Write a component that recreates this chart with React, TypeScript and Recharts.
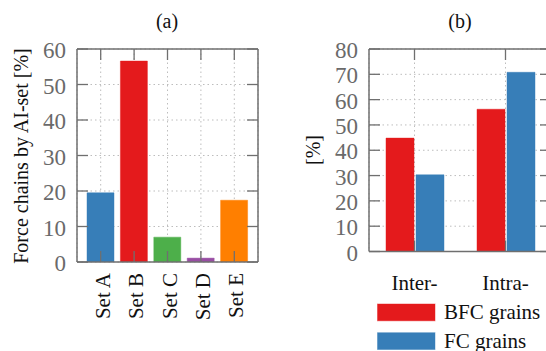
import React from 'react';
import { BarChart, Bar, XAxis, YAxis, CartesianGrid, Cell } from 'recharts';

// ---- Data: panel (a) ----
const setCategories = ['Set A', 'Set B', 'Set C', 'Set D', 'Set E'];
const setValues = [19.5, 56.6, 7.0, 1.1, 17.4];
const setColors = ['#377eb8', '#e41a1c', '#4daf4a', '#984ea3', '#ff7f00'];
const leftTicks = [0, 10, 20, 30, 40, 50, 60];

// ---- Data: panel (b) ----
const grainCategories = ['Inter-', 'Intra-'];
const bfcValues = [44.8, 56.2];
const fcValues = [30.3, 70.8];
const seriesNames = ['BFC grains', 'FC grains'];
const seriesColors = ['#e41a1c', '#377eb8'];
const rightTicks = [0, 10, 20, 30, 40, 50, 60, 70, 80];

const leftData = setCategories.map((name, i) => ({ name, value: setValues[i] }));
const rightData = grainCategories.map((name, i) => ({ name, bfc: bfcValues[i], fc: fcValues[i] }));

const FONT = 'Liberation Serif, serif';
const AXIS = '#6f6f6f';
const TICK_TEXT = '#6a6a6a';
const TEXT = '#111111';
const TL = 11;

const LeftYTick = (props: any) => {
  const { x, y, payload } = props;
  return (
    <g>
      <line x1={x} y1={y} x2={x + TL} y2={y} stroke={AXIS} strokeWidth={1.3} />
      <text x={x - 11} y={y} dy={9} textAnchor="end" fontSize={23} fill={TICK_TEXT} style={{ fontFamily: FONT }}>
        {payload.value}
      </text>
    </g>
  );
};

const RightYTick = (props: any) => {
  const { x, y } = props;
  return <line x1={x} y1={y} x2={x - TL} y2={y} stroke={AXIS} strokeWidth={1.3} />;
};

const TopXTick = (props: any) => {
  const { x, y } = props;
  return <line x1={x} y1={y} x2={x} y2={y + TL} stroke={AXIS} strokeWidth={1.3} />;
};

const SetTick = (props: any) => {
  const { x, y, payload } = props;
  return (
    <g>
      <line x1={x} y1={y} x2={x} y2={y - TL} stroke={AXIS} strokeWidth={1.3} />
      <text
        transform={`translate(${x + 2},${y + 11}) rotate(-90)`}
        textAnchor="end"
        dominantBaseline="central"
        fontSize={21}
        fill={TEXT}
        style={{ fontFamily: FONT }}
      >
        {payload.value}
      </text>
    </g>
  );
};

const GrainTick = (props: any) => {
  const { x, y, payload } = props;
  return (
    <g>
      <line x1={x} y1={y} x2={x} y2={y - TL} stroke={AXIS} strokeWidth={1.3} />
      <text x={x} y={y + 38.5} textAnchor="middle" fontSize={21} fill={TEXT} style={{ fontFamily: FONT }}>
        {payload.value}
      </text>
    </g>
  );
};

const axisLine = { stroke: AXIS, strokeWidth: 1.5 };

export default function App() {
  return (
    <div style={{ position: 'fixed', left: 0, top: 0, width: 546, height: 351, overflow: 'hidden', background: '#fff', fontFamily: FONT }}>
      <div style={{ position: 'absolute', left: 0, top: 0 }}>
        <BarChart width={273} height={351} data={leftData} margin={{ top: 48, right: 14, bottom: 88, left: 76 }} barSize={27}>
          <CartesianGrid stroke="#bdbdbd" strokeDasharray="1.5 3" />
          <XAxis dataKey="name" xAxisId={0} height={1} padding={{ left: 7, right: 7 }} tickSize={0} tickMargin={0} tickLine={false} axisLine={axisLine} tick={<SetTick />} interval={0} />
          <XAxis dataKey="name" xAxisId="top" orientation="top" height={1} padding={{ left: 7, right: 7 }} tickSize={0} tickMargin={0} tickLine={false} axisLine={axisLine} tick={<TopXTick />} interval={0} />
          <YAxis yAxisId={0} width={1} domain={[0, 60]} ticks={leftTicks} tickSize={0} tickMargin={0} tickLine={false} axisLine={axisLine} tick={<LeftYTick />} interval={0} allowDataOverflow />
          <YAxis yAxisId="r" orientation="right" width={1} domain={[0, 60]} ticks={leftTicks} tickSize={0} tickMargin={0} tickLine={false} axisLine={axisLine} tick={<RightYTick />} interval={0} allowDataOverflow />
          <Bar dataKey="value" isAnimationActive={false} strokeOpacity={0.45} strokeWidth={1}>
            {leftData.map((d, i) => (
              <Cell key={d.name} fill={setColors[i]} stroke={setColors[i]} />
            ))}
          </Bar>
        </BarChart>
      </div>
      <div style={{ position: 'absolute', left: 273, top: 0 }}>
        <BarChart width={290} height={351} data={rightData} margin={{ top: 48, right: 11, bottom: 98.5, left: 95 }} barSize={28} barGap={2}>
          <CartesianGrid stroke="#bdbdbd" strokeDasharray="1.5 3" />
          <XAxis dataKey="name" xAxisId={0} height={1} tickSize={0} tickMargin={0} tickLine={false} axisLine={axisLine} tick={<GrainTick />} interval={0} />
          <XAxis dataKey="name" xAxisId="top" orientation="top" height={1} tickSize={0} tickMargin={0} tickLine={false} axisLine={axisLine} tick={<TopXTick />} interval={0} />
          <YAxis yAxisId={0} width={1} domain={[0, 80]} ticks={rightTicks} tickSize={0} tickMargin={0} tickLine={false} axisLine={axisLine} tick={<LeftYTick />} interval={0} allowDataOverflow />
          <YAxis yAxisId="r" orientation="right" width={1} domain={[0, 80]} ticks={rightTicks} tickSize={0} tickMargin={0} tickLine={false} axisLine={axisLine} tick={<RightYTick />} interval={0} allowDataOverflow />
          <Bar dataKey="bfc" name={seriesNames[0]} fill={seriesColors[0]} stroke={seriesColors[0]} strokeOpacity={0.45} isAnimationActive={false} />
          <Bar dataKey="fc" name={seriesNames[1]} fill={seriesColors[1]} stroke={seriesColors[1]} strokeOpacity={0.45} isAnimationActive={false} />
        </BarChart>
      </div>
      <svg width={546} height={351} style={{ position: 'absolute', left: 0, top: 0, pointerEvents: 'none', fontFamily: FONT }}>
        <text x={167} y={28} textAnchor="middle" fontSize={20} fill={TEXT}>(a)</text>
        <text x={460} y={28} textAnchor="middle" fontSize={20} fill={TEXT}>(b)</text>
        <text transform="translate(21,156) rotate(-90)" textAnchor="middle" dominantBaseline="central" fontSize={20} fill={TEXT}>
          Force chains by AI-set [%]
        </text>
        <text transform="translate(313,150) rotate(-90)" textAnchor="middle" dominantBaseline="central" fontSize={20} fill={TEXT}>
          [%]
        </text>
        {seriesNames.map((name, i) => (
          <g key={name}>
            <rect x={377.5} y={304 + i * 28.7} width={57.5} height={16.8} fill={seriesColors[i]} stroke={seriesColors[i]} strokeOpacity={0.45} />
            <text x={444} y={319.3 + i * 28.7} fontSize={21} fill={TEXT}>{name}</text>
          </g>
        ))}
      </svg>
    </div>
  );
}
